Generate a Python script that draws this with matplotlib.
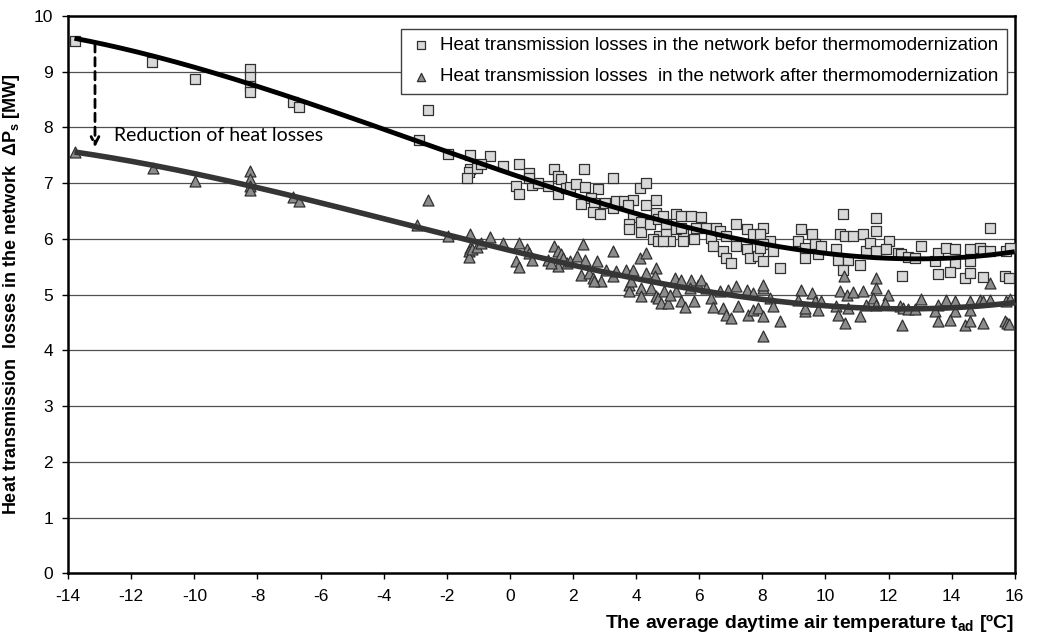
import numpy as np
import matplotlib
matplotlib.use("Agg")
import matplotlib.pyplot as plt

plt.rcParams['font.family'] = ['Liberation Sans', 'DejaVu Sans']
plt.rcParams['mathtext.fontset'] = 'custom'
plt.rcParams['mathtext.rm'] = 'Liberation Sans:bold'
plt.rcParams['mathtext.it'] = 'Liberation Sans:bold'
plt.rcParams['mathtext.bf'] = 'Liberation Sans:bold'

# ---- data: before thermomodernization (squares) ----
before = [
    (-13.79, 9.55), (-11.33, 9.18), (-9.98, 8.86), (-8.24, 9.05), (-8.24, 8.9), (-8.24, 8.75), (-8.24, 8.63),
    (-6.89, 8.46), (-6.70, 8.36), (-2.88, 7.77), (-2.6, 8.32),
    (-1.97, 7.53), (-1.25, 7.50), (-0.63, 7.48), (-1.28, 7.25), (-1.3, 7.20), (-1.35, 7.09), (-1.05, 7.28),
    (-0.93, 7.34), (-0.23, 7.31), (0.30, 7.34), (0.60, 7.19), (0.19, 6.95), (0.28, 6.81), (0.71, 6.96),
    (0.88, 7.01), (1.20, 6.95), (1.41, 7.25), (1.52, 7.13), (1.62, 7.07), (1.52, 6.80), (1.79, 6.92), (0.62, 7.10),
    (2.36, 7.25), (3.26, 7.09), (4.11, 6.92), (4.30, 7.01),
    (1.89, 6.93), (2.10, 6.98), (2.37, 6.93), (2.79, 6.89), (2.26, 6.62), (2.58, 6.74), (2.68, 6.65), (2.63, 6.49),
    (2.86, 6.45), (3.0, 6.65), (3.26, 6.56), (3.37, 6.68), (3.63, 6.68), (3.90, 6.69), (3.74, 6.60), (3.90, 6.39),
    (3.79, 6.27), (3.79, 6.18), (4.16, 6.12), (4.16, 6.30), (4.32, 6.60), (4.62, 6.69), (4.43, 6.27), (4.64, 6.47),
    (4.69, 6.35), (4.74, 6.05), (4.85, 6.41), (4.96, 6.27), (4.96, 6.09), (5.06, 5.96), (5.25, 6.45), (5.43, 6.41),
    (5.48, 6.09), (5.48, 5.96), (5.75, 6.41), (5.85, 6.0), (5.91, 6.2), (6.07, 6.39), (6.22, 6.2), (6.38, 6.02),
    (6.44, 5.87), (6.54, 6.2), (4.53, 6.0), (4.69, 5.96), (4.85, 5.96), (5.27, 6.17), (5.43, 6.2),
    (6.65, 6.14), (6.86, 6.05), (7.18, 6.26), (7.50, 6.17), (7.71, 6.08), (8.02, 6.20), (8.24, 5.96), (7.92, 6.08),
    (8.02, 5.90), (6.76, 5.78), (6.86, 5.66), (7.02, 5.57), (7.18, 5.87), (7.5, 5.81), (7.6, 5.66), (7.87, 5.69),
    (8.02, 5.61), (8.34, 5.79), (7.92, 5.84), (8.55, 5.48),
    (9.24, 6.17), (9.13, 5.96), (9.35, 5.84), (9.56, 6.08), (9.66, 5.90), (9.77, 5.72), (9.87, 5.87), (9.35, 5.66),
    (10.56, 6.44), (10.35, 5.81), (10.4, 5.63), (10.46, 6.08), (10.61, 6.05), (10.72, 5.63), (10.88, 6.05),
    (11.09, 5.54), (11.2, 6.08), (11.3, 5.78), (10.56, 5.45),
    (11.61, 6.38), (11.61, 6.15), (11.40, 5.93), (11.61, 5.78), (12.01, 5.97), (11.91, 5.81), (12.30, 5.75),
    (12.40, 5.72), (12.62, 5.67), (12.83, 5.66), (12.43, 5.33),
    (13.04, 5.88), (13.46, 5.60), (13.57, 5.75), (13.83, 5.84), (14.10, 5.81), (14.10, 5.57), (13.57, 5.37),
    (13.94, 5.40), (14.41, 5.29), (14.57, 5.39), (14.57, 5.81), (14.57, 5.61), (14.89, 5.84), (14.99, 5.78),
    (15.21, 5.79), (15.21, 6.19), (14.99, 5.31), (15.72, 5.78), (15.85, 5.84), (15.70, 5.33), (15.82, 5.29),
]

# ---- data: after thermomodernization (triangles) ----
after = [
    (-13.79, 7.55), (-11.3, 7.28), (-9.98, 7.04), (-8.24, 7.22), (-8.24, 7.08), (-8.24, 6.95), (-8.24, 6.87),
    (-6.89, 6.76), (-6.70, 6.68), (-2.93, 6.25), (-2.58, 6.69),
    (-1.97, 6.05), (-1.25, 6.08), (-0.63, 6.04), (-1.28, 5.84), (-1.3, 5.78), (-1.3, 5.68), (-1.2, 5.81),
    (-1.05, 5.85), (-0.93, 5.93), (-0.23, 5.93), (0.28, 5.93), (0.19, 5.61), (0.28, 5.49), (0.55, 5.81),
    (0.62, 5.75), (0.71, 5.62), (1.20, 5.63), (1.41, 5.87), (1.52, 5.78), (1.62, 5.72), (1.68, 5.66),
    (1.52, 5.51), (1.3, 5.57), (1.82, 5.57),
    (2.33, 5.90), (3.26, 5.78), (4.11, 5.65), (4.30, 5.74), (1.89, 5.60), (2.12, 5.69), (2.37, 5.63), (2.76, 5.60),
    (2.26, 5.36), (2.52, 5.39), (2.63, 5.30), (2.89, 5.24), (2.68, 5.24), (3.05, 5.45), (3.26, 5.33), (3.37, 5.43),
    (3.69, 5.45), (3.90, 5.45), (3.79, 5.18), (3.79, 5.06), (3.85, 5.24), (4.16, 5.12), (4.16, 4.97), (4.32, 5.39),
    (4.62, 5.48), (4.59, 5.33), (4.48, 5.12), (4.64, 4.97), (4.69, 4.94), (4.80, 4.85), (5.01, 4.85), (4.90, 5.06),
    (5.22, 5.30), (5.43, 5.27), (5.43, 4.88), (5.54, 4.78), (5.75, 5.27), (5.85, 4.88), (5.96, 5.18), (6.07, 5.27),
    (6.22, 5.12), (6.38, 4.94), (6.44, 4.78), (5.27, 5.06), (5.06, 5.00), (5.70, 5.12),
    (6.65, 5.06), (6.91, 5.09), (7.18, 5.15), (7.5, 5.09), (7.71, 5.03), (8.02, 5.12), (8.24, 4.94), (8.02, 5.18),
    (6.76, 4.76), (6.86, 4.64), (7.02, 4.58), (7.23, 4.79), (7.55, 4.64), (7.71, 4.73), (7.87, 4.76), (8.02, 4.61),
    (8.34, 4.79), (8.55, 4.52), (8.02, 4.25),
    (9.24, 5.09), (9.13, 4.91), (9.35, 4.70), (9.56, 5.03), (9.66, 4.88), (9.77, 4.73), (9.87, 4.88), (9.35, 4.76),
    (10.46, 5.06), (10.67, 5.0), (10.88, 5.05), (11.2, 5.06), (10.35, 4.79), (10.4, 4.64), (10.61, 4.49),
    (10.72, 4.76), (11.09, 4.61), (11.3, 4.82), (10.58, 5.33),
    (11.61, 5.30), (11.61, 5.12), (11.51, 4.94), (11.98, 4.99), (11.88, 4.85), (11.61, 4.81), (12.35, 4.79),
    (12.46, 4.76), (12.62, 4.74), (12.83, 4.74), (13.04, 4.93), (12.43, 4.46),
    (13.57, 4.82), (13.46, 4.70), (13.83, 4.91), (14.10, 4.88), (14.10, 4.70), (13.57, 4.52), (13.94, 4.55),
    (14.41, 4.46), (14.57, 4.52), (14.57, 4.88), (14.89, 4.91), (14.99, 4.88), (15.21, 4.91), (14.57, 4.73),
    (15.21, 5.21), (14.99, 4.49), (15.72, 4.88), (15.85, 4.93), (15.68, 4.52), (15.76, 4.49), (15.83, 4.47),
]

# ---- trend lines read at anchor temperatures ----
trend_x = [-14, -12, -10, -8, -6, -4, -2, 0, 2, 4, 6, 8, 10, 12, 14, 16]
trend_before = [9.62, 9.36, 9.07, 8.76, 8.39, 7.98, 7.56, 7.15, 6.77, 6.43, 6.16, 5.93, 5.76, 5.67, 5.66, 5.75]
trend_after = [7.62, 7.37, 7.12, 6.90, 6.65, 6.38, 6.10, 5.82, 5.54, 5.28, 5.07, 4.91, 4.79, 4.73, 4.76, 4.88]

x_ticks = list(range(-14, 17, 2))
y_ticks = list(range(0, 11))

label_before = "Heat transmission losses in the network befor thermomodernization"
label_after = "Heat transmission losses  in the network after thermomodernization"

fig = plt.figure(figsize=(10.57, 6.35), dpi=100)
ax = fig.add_axes([0.0645, 0.097, 0.8955, 0.878])

ax.set_xlim(-14, 16)
ax.set_ylim(0, 10)
ax.set_xticks(x_ticks)
ax.set_yticks(y_ticks)
ax.set_xticklabels([str(t) for t in x_ticks])
for yv in y_ticks[1:-1]:
    ax.axhline(yv, color='#505050', lw=0.9, zorder=0)

bx, by = zip(*before)
axx, ayy = zip(*after)
ax.scatter(bx, by, marker='s', s=52, facecolor='#d9d9d9', edgecolor='#303030', linewidth=0.9,
           zorder=3, label=label_before)
ax.scatter(axx, ayy, marker='^', s=62, facecolor='#8c8c8c', edgecolor='#303030', linewidth=0.9,
           zorder=3, label=label_after)

xs = np.linspace(-13.8, 16, 300)
cb = np.polyfit(trend_x, trend_before, 3)
ca = np.polyfit(trend_x, trend_after, 3)
ax.plot(xs, np.polyval(cb, xs), color='black', lw=3.5, zorder=4, solid_capstyle='butt')
ax.plot(xs, np.polyval(ca, xs), color='#353535', lw=4, zorder=4, solid_capstyle='butt')

# reduction arrow
ax.annotate('', xy=(-13.15, 7.64), xytext=(-13.15, 9.5),
            arrowprops=dict(arrowstyle='->', color='black', lw=2, linestyle=(0, (3, 2)),
                            mutation_scale=14, shrinkA=0, shrinkB=0), zorder=5)
ax.text(-12.55, 7.86, 'Reduction of heat losses', fontsize=14, family=['Lato', 'DejaVu Sans'],
        va='center', ha='left', zorder=5)

for s in ax.spines.values():
    s.set_linewidth(1.8)
    s.set_color('black')
ax.tick_params(axis='both', labelsize=12.5, length=4, width=1, direction='out', pad=7)

ax.set_ylabel(r'Heat transmission  losses in the network  ΔP$_\mathrm{s}$ [MW]', fontsize=13,
              fontweight='bold', labelpad=8)
ax.set_xlabel(r'The average daytime air temperature t$_\mathrm{ad}$ [ºC]', fontsize=14,
              fontweight='bold', loc='right', labelpad=6)

leg = ax.legend(loc='upper right', bbox_to_anchor=(0.9915, 0.977), fontsize=13.5, markerscale=0.75,
                frameon=True, fancybox=False, edgecolor='#404040', framealpha=1,
                handletextpad=0.4, borderpad=0.45, labelspacing=0.75, handlelength=1.2,
                borderaxespad=0)
leg.get_frame().set_linewidth(1.0)
leg.set_zorder(6)

fig.savefig('out.png', dpi=100)
